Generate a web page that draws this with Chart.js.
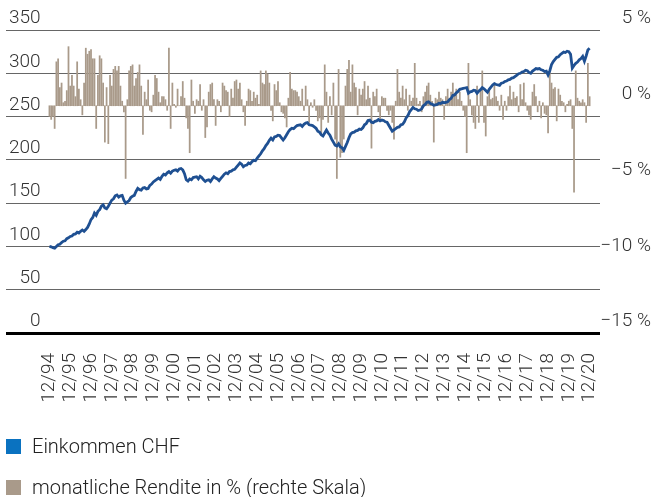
<!DOCTYPE html>
<html>
<head>
<meta charset="utf-8">
<script src="https://cdn.jsdelivr.net/npm/chart.js@4.4.1/dist/chart.umd.min.js"></script>
<style>
  html, body { margin: 0; padding: 0; background: #fff; }
  #wrap { position: relative; width: 653px; height: 497px; }
  .item { position: absolute; left: 6px; height: 22px; display: flex; align-items: center;
          font: 300 20px Roboto, "Liberation Sans", sans-serif; color: #222; white-space: nowrap; }
  .item i { display: inline-block; width: 15px; height: 15px; margin-right: 11px; }
</style>
</head>
<body>
<div id="wrap">
  <canvas id="chart" width="653" height="497"></canvas>
  <div class="item" style="top:435px"><i style="background:#0a72c0"></i>Einkommen CHF</div>
  <div class="item" style="top:476px"><i style="background:#a99a8a"></i>monatliche Rendite in % (rechte Skala)</div>
</div>
<script>
// month index 0 = 12/94, one value per month up to 12/20
const yearLabels = ['12/94', '12/95', '12/96', '12/97', '12/98', '12/99', '12/00', '12/01', '12/02',
    '12/03', '12/04', '12/05', '12/06', '12/07', '12/08', '12/09', '12/10', '12/11', '12/12',
    '12/13', '12/14', '12/15', '12/16', '12/17', '12/18', '12/19', '12/20'];

// Einkommen CHF (left scale)
const income = [100,
    99.5, 98.5, 98, 100, 102, 102.5, 104.5, 106, 106.5, 109, 110, 111.5,
    112, 114, 114.5, 116.5, 115.5, 117.5, 119, 117.5, 119.5, 122, 126, 131,
    133.5, 138.5, 136, 140.5, 142.5, 146.5, 148, 144.5, 143.5, 146.5, 150, 153.5,
    155, 158.5, 159.5, 157, 158.5, 159, 153.5, 150, 151.5, 153, 156.5, 158,
    159, 163.5, 167, 165.5, 165, 167.5, 168, 166.5, 167, 170.5, 172, 174.5,
    176, 177.5, 179, 177.5, 181, 183.5, 182.5, 185, 186.5, 184.5, 187, 188,
    188.5, 187, 189.5, 190, 188.5, 184, 177, 175.5, 178, 177, 179.5, 180,
    180.5, 178, 181, 179.5, 177, 175, 176.5, 177, 175, 178, 180.5, 179,
    178, 176, 178.5, 181, 183.5, 185, 184, 186.5, 187, 188.5, 189, 191.5,
    194, 196.5, 195, 192, 193.5, 194, 196.5, 195.5, 198, 199.5, 199, 202,
    204.5, 207, 210.5, 213, 216.5, 219, 222.5, 225, 223, 226.5, 227, 228.5,
    228, 225.5, 223, 225.5, 229, 232.5, 235, 236.5, 236, 238, 239.5, 240,
    240.5, 238.5, 241, 242.5, 243, 240.5, 240, 239.5, 238, 236.5, 233, 232,
    229, 227.5, 231, 234.5, 231, 228.5, 224, 220.5, 217, 216, 218.5, 215,
    214, 211, 215.5, 220, 225.5, 230, 231.5, 232, 233.5, 234, 235.5, 235,
    237, 240.5, 242, 245.5, 246, 243.5, 243, 244.5, 245, 246.5, 245, 246,
    245.5, 244, 243.5, 240, 236.5, 233, 234.5, 236, 237.5, 238, 240.5, 241,
    244, 248.5, 251, 255.5, 258, 260.5, 259, 258.5, 257, 257.5, 259, 262.5,
    264, 266.5, 267, 265, 264.5, 263, 263.5, 264, 265.5, 265, 266.5, 266,
    266.5, 267, 269.5, 271, 274.5, 275, 277.5, 279, 281.5, 282, 282.5, 283,
    283.5, 277, 278.5, 279, 280.5, 280, 277, 279.5, 281, 283.5, 282, 280,
    278, 281.5, 284, 286.5, 288, 287, 286.5, 286, 288.5, 289, 290.5, 291,
    292.5, 293, 294.5, 295, 296.5, 298, 299.5, 300, 301.5, 302, 303.5, 303,
    301, 300, 302.5, 304, 305.5, 305, 305.5, 304, 303.5, 302, 302.5, 298,
    303, 310, 313.5, 316, 318.5, 319, 321.5, 323, 324.5, 324, 325.5, 325,
    322, 306, 309, 311.5, 313, 315.5, 317, 319.5, 314, 320, 327, 329];

// monatliche Rendite in % (right scale)
const returns = [-0.7,
    -0.9, -0.7, -1.5, 2.9, 3.1, 1.2, 1.5, 0.2, 0.3, 1.0, 3.9, 1.3,
    2.0, 1.3, 0.6, 2.9, 1.1, 0.4, -0.6, 1.5, 3.8, 3.4, 3.6, 3.7,
    3.1, 3.1, -1.5, 2.0, 3.3, 3.1, 1.5, -2.4, 1.2, -2.5, 2.0, 1.3,
    2.4, 2.6, 2.3, 2.6, 1.3, 0.3, -0.4, -4.8, 0.4, 2.3, 2.6, 2.7,
    1.3, 1.8, 2.2, 2.7, 1.3, -1.9, 0.9, 0.4, 1.7, -0.3, -0.4, 0.7,
    2.0, 1.8, 0.9, 0.2, 0.6, 0.6, 0.4, -0.3, 3.8, -1.5, 1.5, 0.1,
    -0.1, 1.1, 0.0, 0.6, 1.6, 0.5, -0.8, -1.5, -3.1, 1.7, 0.3, -0.5,
    0.4, 0.3, 1.4, -0.3, 0.4, -2.1, -1.4, 0.9, 1.4, 1.5, 0.4, -1.3,
    0.4, 0.3, -0.4, 1.5, 1.3, 1.0, 0.9, -0.7, 1.1, 0.5, 1.6, 1.7,
    1.1, 1.5, 0.4, -0.4, -1.3, 0.3, 1.1, 1.0, 0.3, 0.9, 0.5, 0.7,
    0.1, 2.3, 1.5, 1.4, 2.3, 2.1, 1.5, -0.3, -1.0, 1.4, 1.0, 1.6,
    0.2, -0.4, -0.5, -0.8, -1.4, 0.5, 2.2, 1.1, 1.0, 1.0, 0.9, 0.6,
    0.3, 1.1, -0.3, 1.3, 0.4, -1.1, 0.2, -0.1, 0.4, -0.3, -1.0, -0.8,
    -1.8, -0.9, 2.7, 0.9, -1.1, 0.6, -0.6, 1.5, -2.2, -4.8, 2.4, -3.4,
    -3.1, -2.2, 1.3, 2.4, 3.0, 0.9, 2.7, 1.5, 1.2, -0.6, 1.1, 0.7,
    1.1, 1.6, 0.4, 1.3, 0.5, -2.8, 0.9, 0.6, 1.1, -0.4, -1.0, 0.6,
    0.5, 0.5, -0.3, -0.6, -0.3, -1.1, -2.2, 0.3, 2.4, 0.9, 0.5, 1.3,
    0.4, 1.1, -0.3, 0.7, 0.3, 0.5, 2.8, 0.5, 0.1, 0.3, -0.4, 0.6,
    0.9, 1.3, 1.5, 0.7, 0.3, -2.4, 0.5, 0.4, 0.9, 0.5, 0.4, -0.9,
    0.6, 1.1, 0.5, 0.9, 1.5, 0.7, 1.1, 0.4, 0.9, 0.3, -0.3, -0.7,
    -3.1, 2.8, 0.4, -0.6, -1.1, -1.5, 1.3, -1.1, 1.0, 2.3, -1.1, -2.0,
    0.6, 1.1, 0.4, 0.5, 1.4, 0.6, 0.3, -0.3, 0.7, -0.9, 0.3, -0.3,
    0.6, 1.3, 0.4, 0.9, 0.5, 0.6, -0.4, 1.4, 0.4, 1.5, 0.2, -0.3,
    -0.6, -0.9, 0.9, 1.4, 0.6, -0.4, 0.3, -0.8, 0.2, -0.5, -0.6, -1.8,
    2.2, 1.5, 1.1, 1.2, -1.0, 1.1, 0.7, 0.3, 0.2, -0.4, 0.1, 0.3,
    0.4, -1.5, -5.7, 2.3, 0.5, 0.3, 0.2, 0.4, 0.2, -1.1, 2.8, 0.6];

const font = { family: 'Roboto, "Liberation Sans", sans-serif', size: 19, weight: '300' };
const minus = (v) => (v < 0 ? '\u2212' + Math.abs(v) : String(v));

new Chart(document.getElementById('chart'), {
    type: 'bar',
    data: {
        datasets: [
            {
                type: 'line',
                label: 'Einkommen CHF',
                data: income.map((v, i) => ({ x: i, y: v })),
                yAxisID: 'y',
                borderColor: '#1f5092',
                borderWidth: 2.8,
                pointRadius: 0,
                tension: 0,
                order: 0,
            },
            {
                type: 'bar',
                label: 'monatliche Rendite in % (rechte Skala)',
                data: returns.map((v, i) => ({ x: i, y: v })),
                yAxisID: 'y1',
                backgroundColor: '#a99a8a',
                barThickness: 1.1,
                order: 1,
            },
        ],
    },
    options: {
        responsive: false,
        animation: false,
        layout: { padding: { left: 6, right: 2, top: 30, bottom: 0 } },
        plugins: { legend: { display: false }, tooltip: { enabled: false } },
        scales: {
            x: {
                type: 'linear',
                offset: false,
                min: -25.1,
                max: 318,
                grid: { display: false, drawTicks: false },
                border: { display: false },
                afterBuildTicks: (s) => { s.ticks = yearLabels.map((l, i) => ({ value: i * 12 })); },
                afterFit: (s) => { s.height = 164; },
                ticks: {
                    autoSkip: false,
                    minRotation: 90,
                    maxRotation: 90,
                    padding: 20,
                    color: '#333',
                    font,
                    callback: (v, i) => yearLabels[i],
                },
            },
            y: {
                position: 'left',
                min: 0,
                max: 350,
                afterFit: (s) => { s.width = 0; },
                grid: {
                    drawTicks: false,
                    color: (c) => (c.tick && c.tick.value === 0 ? '#000' : '#666'),
                    lineWidth: (c) => (c.tick && c.tick.value === 0 ? 3 : 1),
                },
                border: { display: false },
                ticks: { stepSize: 50, mirror: true, crossAlign: 'far', padding: 3, labelOffset: -11.5, color: '#333', font },
            },
            y1: {
                position: 'right',
                min: -15,
                max: 5,
                afterFit: (s) => { s.width = 51; },
                grid: { display: false, drawTicks: false },
                border: { display: false },
                ticks: { stepSize: 5, crossAlign: 'far', labelOffset: -11.5, color: '#333', font,
                    callback: (v) => minus(v) + ' %' },
            },
        },
    },
});
</script>
</body>
</html>
